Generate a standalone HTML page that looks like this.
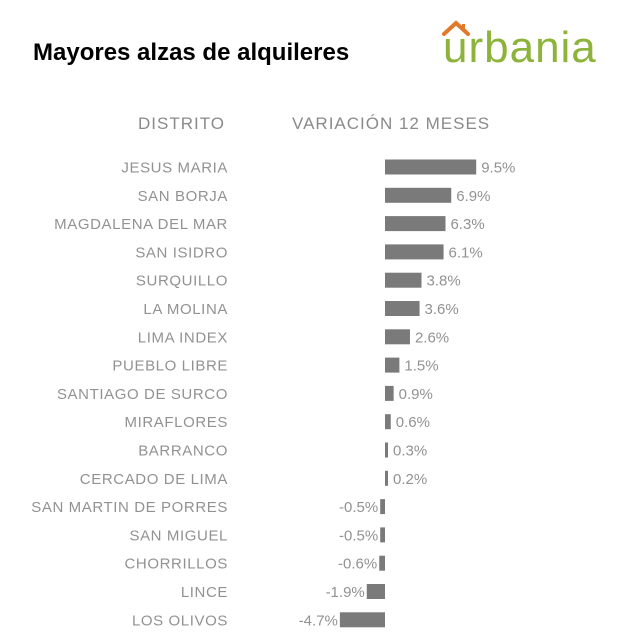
<!DOCTYPE html>
<html><head><meta charset="utf-8"><style>
body{margin:0;background:#fff;width:620px;height:636px;overflow:hidden;font-family:"Liberation Sans",sans-serif}
#title{position:absolute;left:33px;top:39px;font-size:24px;font-weight:bold;color:#000;letter-spacing:0px}
#logo{position:absolute;left:441px;top:14px;width:175px;height:60px}
.hdr{position:absolute;top:114px;font-size:17px;color:#8a8a8a;letter-spacing:1px}
svg text{font-family:"Liberation Sans",sans-serif}
</style></head><body>
<div id="title">Mayores alzas de alquileres</div>
<svg id="logo" viewBox="0 0 175 60">
<path d="M3 20 L15 9 L27 20" stroke="#e07a2a" stroke-width="4" fill="none" stroke-linecap="round"/>
<rect x="21" y="10" width="3" height="6" fill="#e07a2a"/>
<text x="2" y="48" font-size="44" fill="#8cb33a" letter-spacing="1">urbania</text>
</svg>
<div class="hdr" style="left:138px">DISTRITO</div>
<div class="hdr" style="left:292px">VARIACIÓN 12 MESES</div>
<svg id="chart" width="620" height="636" style="position:absolute;left:0;top:0"></svg>
<script>
const districts=["JESUS MARIA","SAN BORJA","MAGDALENA DEL MAR","SAN ISIDRO","SURQUILLO","LA MOLINA","LIMA INDEX","PUEBLO LIBRE","SANTIAGO DE SURCO","MIRAFLORES","BARRANCO","CERCADO DE LIMA","SAN MARTIN DE PORRES","SAN MIGUEL","CHORRILLOS","LINCE","LOS OLIVOS"];
const values=[9.5,6.9,6.3,6.1,3.8,3.6,2.6,1.5,0.9,0.6,0.3,0.2,-0.5,-0.5,-0.6,-1.9,-4.7];
const valueLabels=["9.5%","6.9%","6.3%","6.1%","3.8%","3.6%","2.6%","1.5%","0.9%","0.6%","0.3%","0.2%","-0.5%","-0.5%","-0.6%","-1.9%","-4.7%"];
const svg=document.getElementById('chart');const NS='http://www.w3.org/2000/svg';
const x0=385,scale=9.6;
const xs=v=>x0+v*scale;
const ys=i=>167+i*28.3;
districts.forEach((d,i)=>{
 const y=ys(i),v=values[i];
 const t=document.createElementNS(NS,'text');
 
 
 t.setAttribute('x',228);t.setAttribute('y',y+5.5);t.setAttribute('text-anchor','end');
 t.setAttribute('font-size','15');t.setAttribute('fill','#929292');t.setAttribute('letter-spacing','0.6');
 t.textContent=d;svg.appendChild(t);
 const r=document.createElementNS(NS,'rect');
 
 
 r.setAttribute('x',Math.min(xs(v),x0));r.setAttribute('y',y-7.5);
 r.setAttribute('width',Math.max(Math.abs(xs(v)-x0),3));r.setAttribute('height',15);r.setAttribute('fill','#7a7a7a');
 svg.appendChild(r);
 const l=document.createElementNS(NS,'text');
 
 
 const neg=v<0;
 l.setAttribute('x',neg?xs(v)-2:Math.max(xs(v),x0+3)+5);l.setAttribute('y',y+5.5);
 l.setAttribute('text-anchor',neg?'end':'start');
 l.setAttribute('font-size','15');l.setAttribute('fill','#929292');
 l.textContent=valueLabels[i];svg.appendChild(l);
});
</script>
</body></html>
